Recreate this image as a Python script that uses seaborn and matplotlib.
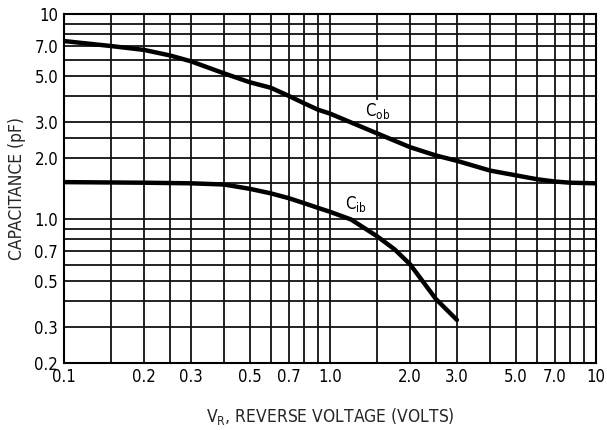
import numpy as np
import pandas as pd
import matplotlib
matplotlib.use("Agg")
import matplotlib.pyplot as plt
import seaborn as sns

# Data
vr_cob = [0.1, 0.15, 0.2, 0.25, 0.3, 0.4, 0.5, 0.6, 0.7, 0.8, 0.9, 1.0,
          1.5, 2.0, 2.5, 3.0, 4.0, 5.0, 6.0, 7.0, 8.0, 10.0]
cob = [7.4, 7.0, 6.7, 6.3, 5.9, 5.15, 4.66, 4.38, 4.0, 3.68, 3.43, 3.28,
       2.63, 2.25, 2.05, 1.93, 1.73, 1.64, 1.57, 1.53, 1.51, 1.5]
vr_cib = [0.1, 0.2, 0.3, 0.4, 0.5, 0.6, 0.7, 0.8, 0.9, 1.0, 1.2, 1.5, 1.75,
          2.0, 2.5, 3.0]
cib = [1.52, 1.51, 1.5, 1.48, 1.41, 1.34, 1.27, 1.2, 1.14, 1.09, 1.0, 0.83,
       0.715, 0.605, 0.41, 0.324]

x_ticks = [0.1, 0.2, 0.3, 0.5, 0.7, 1.0, 2.0, 3.0, 5.0, 7.0, 10.0]
x_tick_labels = ["0.1", "0.2", "0.3", "0.5", "0.7", "1.0", "2.0", "3.0", "5.0", "7.0", "10"]
y_ticks = [0.2, 0.3, 0.5, 0.7, 1.0, 2.0, 3.0, 5.0, 7.0, 10.0]
y_tick_labels = ["0.2", "0.3", "0.5", "0.7", "1.0", "2.0", "3.0", "5.0", "7.0", "10"]
x_grid = [0.1, 0.15, 0.2, 0.25, 0.3, 0.4, 0.5, 0.6, 0.7, 0.8, 0.9, 1.0,
          1.5, 2, 2.5, 3, 4, 5, 6, 7, 8, 9, 10]
y_grid = [0.2, 0.3, 0.4, 0.5, 0.6, 0.7, 0.8, 0.9, 1.0, 1.5, 2, 2.5, 3, 4,
          5, 6, 7, 8, 9, 10]

sns.set_style("white")
plt.rcParams['font.family'] = ['DejaVu Sans']
plt.rcParams['font.stretch'] = 'condensed'
plt.rcParams['mathtext.fontset'] = 'custom'
plt.rcParams['mathtext.rm'] = 'DejaVu Sans:stretch=condensed'

fig = plt.figure(figsize=(6.07, 4.30), dpi=100)
ax = fig.add_axes([0.105, 0.156, 0.877, 0.811])
ax.set_xscale("log")
ax.set_yscale("log")
ax.set_xlim(0.1, 10)
ax.set_ylim(0.2, 10)

for g in x_grid:
    ax.axvline(g, color="#111111", lw=1.3, zorder=1)
for g in y_grid:
    ax.axhline(g, color="#111111", lw=1.3, zorder=1)

df_cob = pd.DataFrame({"VR": vr_cob, "C": cob})
df_cib = pd.DataFrame({"VR": vr_cib, "C": cib})
sns.lineplot(data=df_cob, x="VR", y="C", ax=ax, color="black", lw=3.2, zorder=3)
sns.lineplot(data=df_cib, x="VR", y="C", ax=ax, color="black", lw=3.2, zorder=3)

ax.text(1.36, 3.2, r"C$_{\rm ob}$", fontsize=12, color="black", zorder=2,
        va="baseline",
        bbox=dict(facecolor="white", edgecolor="none", pad=0.5))
ax.text(1.14, 1.13, r"C$_{\rm ib}$", fontsize=12, color="black", zorder=4,
        va="baseline")

ax.set_xticks(x_ticks)
ax.set_xticklabels(x_tick_labels)
ax.set_yticks(y_ticks)
ax.set_yticklabels(y_tick_labels)
ax.xaxis.set_minor_locator(matplotlib.ticker.NullLocator())
ax.yaxis.set_minor_locator(matplotlib.ticker.NullLocator())
ax.tick_params(axis="both", length=0, labelsize=12, colors="black", pad=4)

ax.set_xlabel(r"V$_{\rm R}$, REVERSE VOLTAGE (VOLTS)", fontsize=12.5, labelpad=14)
ax.set_ylabel("CAPACITANCE (pF)", fontsize=12.5, labelpad=6)

for s in ax.spines.values():
    s.set_color("black")
    s.set_linewidth(1.5)

fig.savefig("out.png", dpi=100)
